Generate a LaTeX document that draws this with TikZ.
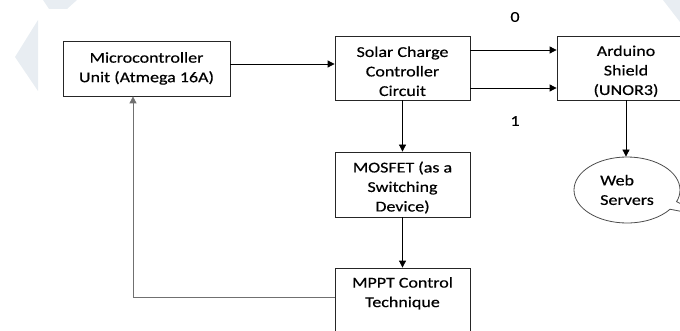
\documentclass[tikz,border=0pt]{standalone}
\usepackage{fontspec}
\setmainfont{Carlito}[FakeStretch=1.2,FakeBold=0.5]
\usetikzlibrary{arrows.meta,shapes.callouts}
\definecolor{markcol}{HTML}{E8EDF2}
\definecolor{feedcol}{HTML}{707070}
% extra room above the first line of a block
\newcommand\topgap{\rule{0pt}{17pt}}
\begin{document}
\begin{tikzpicture}[x=1pt,y=-1pt,
  font=\fontsize{15}{19.5}\selectfont,
  block/.style={draw=black!85, line width=0.8pt, align=center, inner sep=0pt},
  link/.style={draw=black, line width=0.8pt, -{Triangle[length=7pt,width=7pt]}},
  tag/.style={inner sep=0pt},
]
\useasboundingbox (0,0) rectangle (680,331);
\clip (0,0) rectangle (680,331);

% faint background marks
\fill[markcol] (38,20) -- (15,57) -- (38,91) -- cycle;
\fill[markcol] (43,0) -- (77,0) -- (67,9) -- (49,9) -- cycle;
\fill[markcol] (663,0) -- (680,0) -- (680,22) -- cycle;

% blocks
\node[block, minimum width=167, minimum height=55] (mcu) at (146.5,68.5)
  {Microcontroller\\Unit (Atmega 16A)};
\node[block, minimum width=135, minimum height=64] (scc) at (402.5,68)
  {\topgap Solar Charge\\Controller\\Circuit};
\node[block, minimum width=138, minimum height=64] (ard) at (626,68)
  {\topgap Arduino\\Shield\\(UNOR3)};
\node[block, minimum width=135, minimum height=65] (mos) at (402.5,184.5)
  {\topgap MOSFET (as a\\Switching\\Device)};
\node[block, minimum width=135, minimum height=67] (mppt) at (402.5,301.5)
  {\topgap MPPT Control\\Technique\\\strut};

% web servers callout
\node[ellipse callout, draw=black!70, line width=0.8pt, minimum width=106,
      minimum height=66, inner sep=0pt, align=left,
      callout absolute pointer={(705,216)}] (web) at (627,190)
  {Web\\Servers};

% signal labels
\node[tag] (l0) at (515,17) {0};
\node[tag] (l1) at (515,121) {1};

% connectors
\coordinate (mcuout) at ([yshift=4.5pt]mcu.east);
\draw[link] (mcuout) -- (mcuout -| scc.west);
\draw[link] ([yshift=18pt]scc.east) -- ([yshift=18pt]ard.west);
\draw[link] ([yshift=-20pt]scc.east) -- ([yshift=-20pt]ard.west);
\draw[link] (scc) -- (mos);
\draw[link] (mos) -- (mppt);
\draw[link] (ard.south) -- (web.north -| ard.south);
\draw[link, draw=feedcol] ([yshift=4.5pt]mppt.west) -| ([xshift=-13.5pt]mcu.south);
\end{tikzpicture}
\end{document}
